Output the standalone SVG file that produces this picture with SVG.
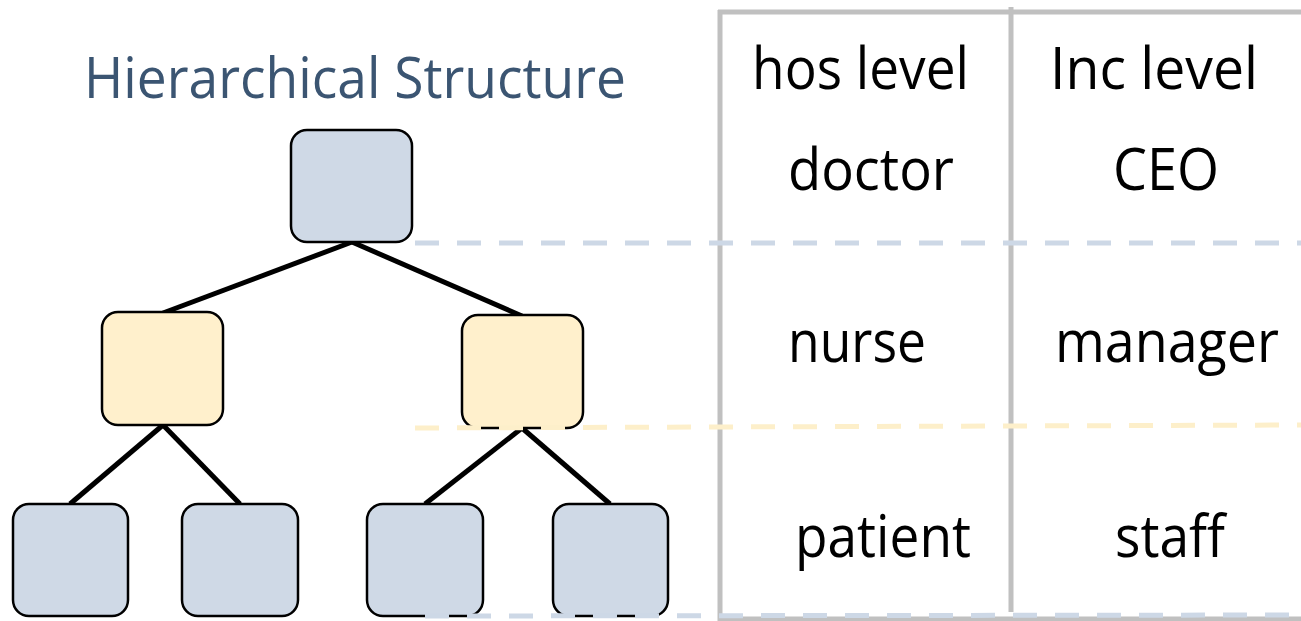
<svg xmlns="http://www.w3.org/2000/svg" width="1301" height="621" viewBox="0 0 1301 621">
  <style>
    .node { stroke: #000; stroke-width: 2.5; }
    .blue { fill: #cfd9e6; }
    .yellow { fill: #fff0cc; }
    .edge { stroke: #000; stroke-width: 5; stroke-linecap: butt; fill: none; }
    .grid { stroke: #c0c0c0; stroke-width: 5; fill: none; }
    .dash-blue { stroke: #cdd8e6; stroke-width: 5; stroke-dasharray: 24 18; fill: none; }
    .dash-yellow { stroke: #fdefca; stroke-width: 5; stroke-dasharray: 24 18; fill: none; }
    .title { font-family: "Open Sans", "Noto Sans", "Liberation Sans", sans-serif; font-size: 56px; fill: #3b5572; }
    .cell { font-family: "Open Sans", "Noto Sans", "Liberation Sans", sans-serif; font-size: 58px; fill: #000; }
  </style>

  <rect width="1301" height="621" fill="#ffffff"/>

  <!-- table frame -->
  <g id="table">
    <line class="grid" x1="718" y1="12" x2="1301" y2="12"/>
    <line class="grid" x1="720" y1="10" x2="720" y2="621"/>
    <line class="grid" x1="1011" y1="7" x2="1011" y2="612"/>
    <line class="grid" x1="720" y1="619" x2="1301" y2="619"/>
  </g>

  <text class="title" x="84" y="98" textLength="542" lengthAdjust="spacingAndGlyphs">Hierarchical Structure</text>

  <!-- tree edges -->
  <g id="connectors">
    <line class="edge" x1="352" y1="242" x2="163" y2="313"/>
    <line class="edge" x1="352" y1="242" x2="522" y2="316"/>
    <line class="edge" x1="163" y1="425" x2="70" y2="504"/>
    <line class="edge" x1="163" y1="425" x2="240" y2="504"/>
    <line class="edge" x1="522" y1="428" x2="425" y2="504"/>
    <line class="edge" x1="522" y1="428" x2="610" y2="504"/>
  </g>

  <!-- tree nodes -->
  <g id="root"><rect class="node blue" x="291" y="130" width="121" height="112" rx="16"/></g>
  <g id="mid-left"><rect class="node yellow" x="102" y="312" width="121" height="113" rx="16"/></g>
  <g id="mid-right"><rect class="node yellow" x="462" y="315" width="121" height="113" rx="16"/></g>
  <g id="leaf-1"><rect class="node blue" x="13" y="504" width="115" height="112" rx="16"/></g>
  <g id="leaf-2"><rect class="node blue" x="182" y="504" width="116" height="112" rx="16"/></g>
  <g id="leaf-3"><rect class="node blue" x="367" y="504" width="116" height="112" rx="16"/></g>
  <g id="leaf-4"><rect class="node blue" x="553" y="504" width="115" height="112" rx="16"/></g>

  <!-- level separators -->
  <g id="levels">
    <line class="dash-blue" x1="415" y1="243" x2="1301" y2="243"/>
    <line class="dash-yellow" x1="415" y1="428" x2="1301" y2="425"/>
    <line class="dash-blue" x1="425" y1="616" x2="1301" y2="615"/>
  </g>

  <!-- table text -->
  <g id="cells">
    <text class="cell" x="752" y="89" textLength="217" lengthAdjust="spacingAndGlyphs">hos level</text>
    <text class="cell" x="1050" y="89" textLength="208" lengthAdjust="spacingAndGlyphs">Inc level</text>
    <text class="cell" x="788" y="190" textLength="166" lengthAdjust="spacingAndGlyphs">doctor</text>
    <text class="cell" x="1113" y="190" textLength="106" lengthAdjust="spacingAndGlyphs">CEO</text>
    <text class="cell" x="788" y="362" textLength="138" lengthAdjust="spacingAndGlyphs">nurse</text>
    <text class="cell" x="1055" y="362" textLength="224" lengthAdjust="spacingAndGlyphs">manager</text>
    <text class="cell" x="795" y="557" textLength="176" lengthAdjust="spacingAndGlyphs">patient</text>
    <text class="cell" x="1115" y="557" textLength="110" lengthAdjust="spacingAndGlyphs">staff</text>
  </g>
</svg>
